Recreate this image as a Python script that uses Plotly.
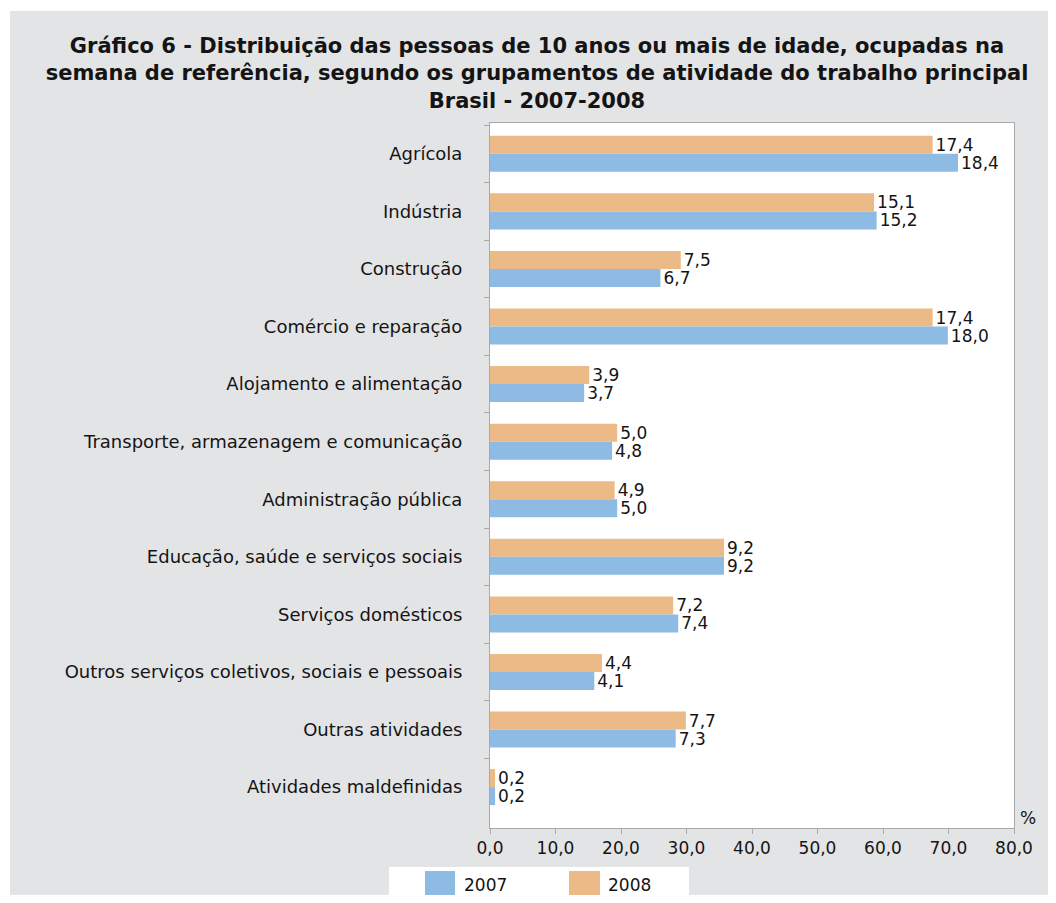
import numpy as np
import plotly.graph_objects as go

# ---------------- data ----------------
categories = [
    "Agrícola",
    "Indústria",
    "Construção",
    "Comércio e reparação",
    "Alojamento e alimentação",
    "Transporte, armazenagem e comunicação",
    "Administração pública",
    "Educação, saúde e serviços sociais",
    "Serviços domésticos",
    "Outros serviços coletivos, sociais e pessoais",
    "Outras atividades",
    "Atividades maldefinidas",
]
values_2007 = [18.4, 15.2, 6.7, 18.0, 3.7, 4.8, 5.0, 9.2, 7.4, 4.1, 7.3, 0.2]
values_2008 = [17.4, 15.1, 7.5, 17.4, 3.9, 5.0, 4.9, 9.2, 7.2, 4.4, 7.7, 0.2]
series_names = ["2007", "2008"]
x_tick_labels = ["0,0", "10,0", "20,0", "30,0", "40,0", "50,0", "60,0", "70,0", "80,0"]
# the printed axis is stretched relative to the bars: its 80,0 mark sits at ~20.6 bar units
x_axis_max = 20.6

title_text = ("Gráfico 6 - Distribuição das pessoas de 10 anos ou mais de idade, ocupadas na<br>"
              "semana de referência, segundo os grupamentos de atividade do trabalho principal<br>"
              "Brasil - 2007-2008")

# ---------------- style ----------------
OFF = 8                      # page body margin
W, H = 1040, 887             # figure size (fits the 1056x903 window with the body margin)
# plot area in page pixels
PL, PR, PT, PB = 490, 1014, 123, 828
L, R, T, B = PL - OFF, PR - OFF, PT - OFF, PB - OFF
BG = "#E3E4E6"
BLUE = "#8DBBE4"
ORANGE = "#ECBA87"
AXIS_GRAY = "#A9A9A9"
TXT = "#141414"
FONT = "DejaVu Sans"

def px_x(page_x):
    return (page_x - OFF - L) / (R - L)

def px_y(page_y):
    return (B - (page_y - OFF)) / (B - T)

fig = go.Figure()
fig.add_trace(go.Bar(
    name=series_names[1], y=categories, x=values_2008, orientation="h",
    marker=dict(color=ORANGE, line=dict(width=0)),
    texttemplate="%{x:.1f}", textposition="outside", constraintext="none",
    textfont=dict(family=FONT, size=17, color=TXT),
    cliponaxis=False, showlegend=False,
))
fig.add_trace(go.Bar(
    name=series_names[0], y=categories, x=values_2007, orientation="h",
    marker=dict(color=BLUE, line=dict(width=0)),
    texttemplate="%{x:.1f}", textposition="outside", constraintext="none",
    textfont=dict(family=FONT, size=17, color=TXT),
    cliponaxis=False, showlegend=False,
))

n = len(categories)

# legend drawn as a white box with two swatches (page pixel positions)
legend_shapes = [
    dict(type="rect", xref="paper", yref="paper", layer="above",
         x0=px_x(389), x1=px_x(689), y0=px_y(903), y1=px_y(867),
         fillcolor="white", line=dict(width=0)),
    dict(type="rect", xref="paper", yref="paper", layer="above",
         x0=px_x(425), x1=px_x(455), y0=px_y(903), y1=px_y(871),
         fillcolor=BLUE, line=dict(width=0)),
    dict(type="rect", xref="paper", yref="paper", layer="above",
         x0=px_x(569), x1=px_x(600), y0=px_y(903), y1=px_y(871),
         fillcolor=ORANGE, line=dict(width=0)),
]
legend_texts = [
    dict(text=series_names[0], xref="paper", yref="paper",
         x=px_x(462), y=px_y(885), xanchor="left", yanchor="middle",
         showarrow=False, font=dict(family=FONT, size=17, color=TXT)),
    dict(text=series_names[1], xref="paper", yref="paper",
         x=px_x(606), y=px_y(885), xanchor="left", yanchor="middle",
         showarrow=False, font=dict(family=FONT, size=17, color=TXT)),
]

fig.update_layout(
    width=W, height=H,
    margin=dict(l=L, r=W - R, t=T, b=H - B, pad=0),
    paper_bgcolor=BG,
    plot_bgcolor="white",
    separators=",.",
    barmode="group",
    bargap=0.374,
    bargroupgap=0,
    showlegend=False,
    font=dict(family=FONT, size=17, color=TXT),
    title=dict(
        text=title_text,
        x=(537 - OFF) / W, xref="container", xanchor="center",
        y=1 - (53 - OFF) / H, yref="container", yanchor="top",
        font=dict(family=FONT, size=21, color=TXT, weight="bold"),
    ),
    xaxis=dict(
        range=[0, x_axis_max],
        tickvals=list(np.linspace(0, x_axis_max, len(x_tick_labels))),
        ticktext=x_tick_labels,
        ticks="outside", ticklen=5, tickcolor=AXIS_GRAY,
        showline=True, linecolor=AXIS_GRAY, linewidth=1, mirror=True,
        showgrid=False, zeroline=False,
        tickfont=dict(family=FONT, size=17, color=TXT),
        fixedrange=True,
    ),
    yaxis=dict(
        type="category",
        categoryorder="array", categoryarray=categories,
        range=[n - 0.5 + 0.21, -0.535],
        tickson="boundaries",
        ticks="outside", ticklen=5, tickcolor=AXIS_GRAY,
        showline=True, linecolor=AXIS_GRAY, linewidth=1, mirror=True,
        showgrid=False, zeroline=False,
        ticklabelstandoff=23,
        tickfont=dict(family=FONT, size=18, color=TXT),
        fixedrange=True,
    ),
    shapes=[
        dict(type="rect", xref="paper", yref="paper", layer="below",
             x0=px_x(OFF), x1=px_x(10), y0=px_y(OFF + H), y1=px_y(OFF),
             fillcolor="white", line=dict(width=0)),
        dict(type="rect", xref="paper", yref="paper", layer="below",
             x0=px_x(OFF), x1=px_x(OFF + W), y0=px_y(11), y1=px_y(OFF),
             fillcolor="white", line=dict(width=0)),
    ] + legend_shapes,
    annotations=[
        dict(text="%", xref="paper", yref="paper",
             x=px_x(1018), y=px_y(818), xanchor="left", yanchor="middle",
             showarrow=False, font=dict(family=FONT, size=17, color=TXT)),
    ] + legend_texts,
)

fig.write_html("out.html")
